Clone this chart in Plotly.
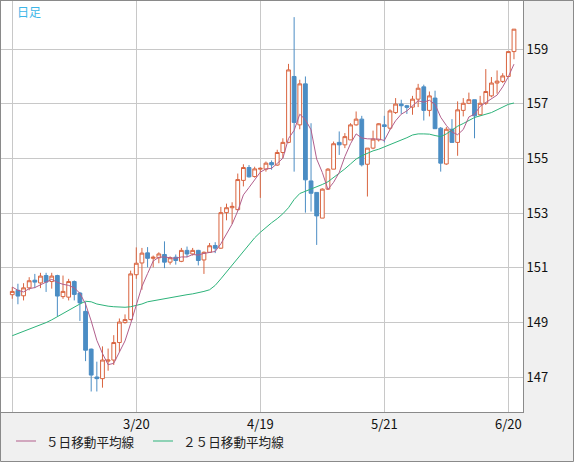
import plotly.graph_objects as go
import pandas as pd

# ---- data (USD/JPY daily) ----
dates = [d.strftime("%Y-%m-%d") for d in pd.bdate_range("2024-02-19", "2024-06-21")]

open_ = [150.02, 150.18, 149.98, 150.27, 150.55, 150.45, 150.72, 150.50, 150.72, 149.95,
         149.93, 150.50, 150.08, 149.41, 148.03, 147.01, 146.95, 147.59, 147.63, 148.27,
         149.00, 149.11, 150.75, 151.18, 151.55, 151.35, 151.37, 151.49, 151.21, 151.39,
         151.24, 151.64, 151.51, 151.64, 151.29, 151.57, 151.82, 151.72, 153.02, 153.20,
         153.13, 154.20, 154.67, 154.34, 154.61, 154.61, 154.85, 154.76, 155.22, 155.59,
         158.00, 156.23, 157.73, 154.18, 153.76, 152.82, 153.88, 154.61, 155.59, 155.50,
         155.68, 156.23, 156.44, 154.79, 155.38, 155.68, 156.23, 156.11, 156.68, 156.99,
         156.93, 156.88, 157.17, 157.62, 156.76, 157.21, 156.11, 154.80, 156.07, 155.59,
         156.76, 157.02, 157.15, 156.60, 157.02, 157.29, 157.76, 157.82, 158.00, 158.91]
high = [150.30, 150.42, 150.44, 150.66, 150.78, 150.82, 150.82, 150.82, 150.75, 150.72,
        150.60, 150.54, 150.12, 149.75, 148.05, 147.57, 148.13, 148.05, 148.54, 149.15,
        149.30, 150.90, 151.75, 151.73, 151.76, 151.45, 151.57, 151.97, 151.42, 151.49,
        151.73, 151.78, 151.73, 151.66, 151.60, 151.91, 151.94, 153.23, 153.35, 153.40,
        154.45, 154.79, 154.76, 154.70, 154.68, 154.89, 154.93, 155.32, 155.74, 158.46,
        160.17, 157.88, 158.00, 156.29, 153.76, 153.91, 154.65, 155.62, 155.99, 155.93,
        156.29, 156.72, 156.56, 155.38, 156.02, 156.29, 156.56, 156.80, 157.21, 157.15,
        156.96, 157.29, 157.73, 157.70, 157.45, 157.48, 156.15, 156.15, 156.44, 157.09,
        157.21, 157.41, 157.15, 157.29, 158.27, 157.98, 158.22, 158.12, 158.91, 159.73]
low = [149.87, 149.67, 149.81, 150.18, 150.26, 150.26, 150.12, 150.24, 149.24, 149.87,
       149.81, 149.81, 149.06, 147.59, 146.48, 146.48, 146.62, 147.24, 147.45, 147.93,
       148.96, 149.08, 150.60, 150.20, 151.02, 151.02, 151.17, 150.99, 151.12, 151.12,
       151.21, 151.39, 151.45, 151.09, 150.78, 151.55, 151.54, 151.70, 152.74, 152.61,
       153.10, 153.98, 154.30, 154.30, 153.56, 154.52, 154.59, 154.73, 155.01, 155.56,
       154.52, 156.07, 153.02, 153.06, 151.84, 152.82, 153.85, 154.61, 155.13, 155.38,
       155.68, 156.20, 154.71, 153.61, 155.34, 155.62, 155.59, 156.05, 156.63, 156.63,
       156.63, 156.60, 156.88, 156.39, 156.54, 156.09, 154.52, 154.77, 155.59, 155.10,
       156.54, 156.99, 155.74, 156.56, 156.96, 157.24, 157.37, 157.76, 157.98, 158.63]
close = [150.14, 149.97, 150.27, 150.53, 150.48, 150.70, 150.48, 150.70, 149.97, 150.14,
         150.50, 150.03, 149.72, 147.99, 147.08, 146.95, 147.63, 147.63, 148.27, 149.02,
         149.11, 150.78, 151.17, 151.54, 151.35, 151.39, 151.51, 151.21, 151.37, 151.27,
         151.64, 151.51, 151.64, 151.27, 151.57, 151.81, 151.72, 153.02, 153.20, 153.25,
         154.23, 154.67, 154.33, 154.62, 154.64, 154.83, 154.77, 155.22, 155.59, 158.24,
         156.32, 157.73, 154.22, 153.73, 152.90, 153.88, 154.61, 155.54, 155.50, 155.80,
         156.23, 156.44, 154.77, 155.38, 155.71, 156.27, 156.17, 156.74, 156.99, 156.93,
         156.87, 157.17, 157.57, 156.76, 157.29, 156.09, 154.83, 156.07, 155.59, 156.78,
         157.02, 157.15, 156.56, 157.02, 157.45, 157.76, 157.83, 158.02, 158.91, 159.73]
ma5 = [150.30, 150.18, 150.12, 150.24, 150.28, 150.39, 150.49, 150.58, 150.47, 150.40,
       150.36, 150.27, 150.07, 149.68, 149.06, 148.35, 147.87, 147.46, 147.51, 147.90,
       148.33, 148.96, 149.67, 150.32, 150.79, 151.25, 151.39, 151.40, 151.37, 151.35,
       151.40, 151.40, 151.49, 151.47, 151.53, 151.56, 151.60, 151.88, 152.26, 152.60,
       153.08, 153.67, 153.94, 154.22, 154.50, 154.62, 154.64, 154.82, 155.01, 155.73,
       156.03, 156.62, 156.42, 156.05, 154.98, 154.49, 153.87, 154.13, 154.49, 155.07,
       155.54, 155.90, 155.75, 155.72, 155.71, 155.71, 155.66, 156.05, 156.38, 156.62,
       156.74, 156.94, 157.11, 157.06, 157.13, 156.98, 156.51, 156.21, 155.97, 155.87,
       156.06, 156.52, 156.62, 156.91, 157.04, 157.19, 157.32, 157.62, 157.99, 158.45]
ma25 = [148.52, 148.60, 148.67, 148.75, 148.82, 148.90, 149.00, 149.10, 149.22, 149.35,
        149.45, 149.56, 149.68, 149.78, 149.76, 149.68, 149.63, 149.60, 149.58, 149.56,
        149.56, 149.58, 149.62, 149.68, 149.76, 149.80, 149.84, 149.88, 149.92, 149.96,
        149.99, 150.02, 150.05, 150.09, 150.14, 150.20, 150.36, 150.60, 150.85, 151.10,
        151.35, 151.62, 151.88, 152.10, 152.30, 152.48, 152.65, 152.80, 152.98, 153.20,
        153.50, 153.72, 153.80, 153.88, 153.96, 154.05, 154.15, 154.30, 154.45, 154.62,
        154.80, 154.98, 155.10, 155.20, 155.28, 155.34, 155.42, 155.50, 155.58, 155.66,
        155.76, 155.86, 155.90, 155.90, 155.89, 155.84, 155.80, 155.90, 156.05, 156.18,
        156.28, 156.40, 156.50, 156.56, 156.62, 156.68, 156.78, 156.88, 156.98, 157.03]

tick_dates = ["2024-02-19", "2024-03-20", "2024-04-19", "2024-05-21", "2024-06-20"]
tick_text = ["", "3/20", "4/19", "5/21", "6/20"]
y_ticks = [147, 149, 151, 153, 155, 157, 159]
legend_names = ["５日移動平均線", "２５日移動平均線"]
title_text = "日足"

UP = "#d9643f"
DOWN = "#4b8dc4"
MA5C = "#b25f8c"
MA25C = "#2db37a"
GRID = "#c8c8c8"
BORDER = "#8a8a8a"
FONT = "Noto Sans CJK JP"

W, H = 574, 462
ML, MR, MT, MB = 1, 51, 1, 50
PW, PH = W - ML - MR, H - MT - MB


def px(x):
    return (x - ML) / PW


def py(y):
    return (MT + PH - y) / PH


fig = go.Figure()
fig.add_trace(go.Candlestick(
    x=dates, open=open_, high=high, low=low, close=close,
    increasing=dict(line=dict(color=UP, width=1), fillcolor="white"),
    decreasing=dict(line=dict(color=DOWN, width=1), fillcolor=DOWN),
    whiskerwidth=0, showlegend=False, hoverinfo="skip"))
fig.add_trace(go.Scatter(x=dates, y=ma25, mode="lines", line=dict(color=MA25C, width=1),
                         showlegend=False, hoverinfo="skip"))
fig.add_trace(go.Scatter(x=dates, y=ma5, mode="lines", line=dict(color=MA5C, width=1),
                         showlegend=False, hoverinfo="skip"))

shapes = [
    dict(type="rect", xref="paper", yref="paper", x0=px(0.5), x1=px(W - 0.5),
         y0=py(H - 0.5), y1=py(0.5), line=dict(color=BORDER, width=1), layer="below"),
    dict(type="line", xref="paper", yref="paper", x0=px(16), x1=px(36), y0=py(441), y1=py(441),
         line=dict(color=MA5C, width=1)),
    dict(type="line", xref="paper", yref="paper", x0=px(153), x1=px(173), y0=py(441), y1=py(441),
         line=dict(color=MA25C, width=1)),
]
annotations = [
    dict(text=title_text, xref="paper", yref="paper", x=px(15), y=py(12), xanchor="left",
         yanchor="middle", showarrow=False, font=dict(family=FONT, size=12, color="#3db6e8")),
    dict(text=legend_names[0], xref="paper", yref="paper", x=px(44), y=py(441), xanchor="left",
         yanchor="middle", showarrow=False, font=dict(family=FONT, size=12.6, color="#222")),
    dict(text=legend_names[1], xref="paper", yref="paper", x=px(181), y=py(441), xanchor="left",
         yanchor="middle", showarrow=False, font=dict(family=FONT, size=12.6, color="#222")),
]

fig.update_layout(
    width=W, height=H, margin=dict(l=ML, r=MR, t=MT, b=MB, autoexpand=False),
    paper_bgcolor="#f0f0f0", plot_bgcolor="white",
    font=dict(family=FONT, size=13, color="#111"),
    shapes=shapes, annotations=annotations, showlegend=False,
    boxgap=0.33, boxgroupgap=0,
    xaxis=dict(type="category", range=[-2.0, 90.6], tickmode="array", tickvals=tick_dates,
               ticktext=tick_text, showgrid=True, gridcolor=GRID, gridwidth=1,
               showline=True, linecolor=BORDER, mirror=True, ticks="", automargin=False,
               rangeslider=dict(visible=False), zeroline=False,
               tickfont=dict(family=FONT, size=13, color="#111")),
    yaxis=dict(side="right", range=[145.73, 160.76], tickmode="array", tickvals=y_ticks,
               showgrid=True, gridcolor=GRID, gridwidth=1, showline=True, linecolor=BORDER,
               mirror=True, ticks="", zeroline=False, automargin=False,
               tickfont=dict(family=FONT, size=13, color="#111")),
)

fig.write_html("out.html", config={"displayModeBar": False},
               post_script="document.body.style.margin='0';document.body.style.padding='0';")
